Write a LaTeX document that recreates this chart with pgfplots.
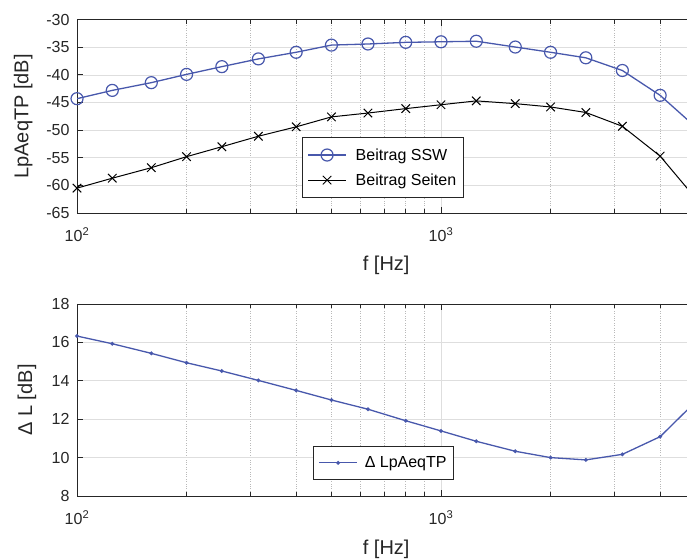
\documentclass[border=0pt]{standalone}
\usepackage{pgfplots}
\pgfplotsset{compat=1.18}
\usepackage{pgfplotstable}
\usepackage{fontspec}
\setmainfont{Liberation Sans}
\definecolor{ssw}{RGB}{72,88,172}
\definecolor{axgray}{RGB}{38,38,38}
\definecolor{gridgray}{RGB}{222,222,222}

\pgfplotstableread{
f      ssw     seiten
100   -44.3   -60.5
125   -42.8   -58.7
160   -41.4   -56.8
200   -39.9   -54.8
250   -38.5   -53.0
315   -37.1   -51.1
400   -35.9   -49.4
500   -34.6   -47.6
630   -34.4   -46.9
800   -34.1   -46.1
1000  -34.0   -45.4
1250  -33.9   -44.7
1600  -34.95  -45.2
2000  -35.9   -45.8
2500  -36.9   -46.8
3150  -39.2   -49.3
4000  -43.7   -54.7
5000  -49.4   -62.3
}\toptable

\pgfplotstableread{
f      dl
100   16.33
125   15.93
160   15.43
200   14.94
250   14.51
315   14.02
400   13.50
500   13.00
630   12.52
800   11.92
1000  11.39
1250  10.85
1600  10.33
2000  10.00
2500   9.88
3150  10.17
4000  11.09
5000  12.90
}\bottable

\begin{document}
\begin{tikzpicture}
\useasboundingbox (0pt,0pt) rectangle (687pt,559pt);
\clip (0pt,0pt) rectangle (687pt,559pt);

\begin{axis}[
  scale only axis, width=618.4pt, height=193.3pt,
  at={(77pt,346pt)}, anchor=south west,
  xmode=log, xmin=100, xmax=5000,
  xtick={100,1000}, xticklabels={10\textsuperscript{2},10\textsuperscript{3}},
  minor xtick={200,300,400,500,600,700,800,900,2000,3000,4000,5000},
  ymin=-65, ymax=-30, ytick={-65,-60,...,-30},
  axis line style={axgray, line width=0.9pt},
  tick style={axgray, line width=0.9pt},
  major tick length=6pt, minor tick length=4pt,
  xmajorgrids, xminorgrids, ymajorgrids,
  major grid style={gridgray, line width=0.8pt},
  minor grid style={gray!55, dotted, line width=0.8pt},
  tick label style={font=\fontsize{16}{18}\selectfont, text=axgray},
  xticklabel style={yshift=-11pt},
  yticklabel style={xshift=-4pt},
  /pgf/number format/assume math mode=true,
  xlabel={f [Hz]}, ylabel={LpAeqTP [dB]},
  every axis x label/.style={at={(axis description cs:0.5,-0.269)}, anchor=center, font=\fontsize{20}{22}\selectfont, text=axgray},
  every axis y label/.style={at={(axis description cs:-0.087,0.5)}, rotate=90, anchor=center, font=\fontsize{20}{22}\selectfont, text=axgray},
  legend cell align=left,
  legend image code/.code={\draw[mark repeat=2,mark phase=2,#1] plot coordinates {(0pt,0pt) (19pt,0pt) (38pt,0pt)};\path (45pt,0pt);},
  legend style={at={(axis description cs:0.3638,0.393)}, anchor=north west,
    font=\fontsize{16}{18}\selectfont, draw=axgray, line width=0.9pt,
    fill=white, inner xsep=5pt, inner ysep=9pt, row sep=8pt},
]
\addplot[ssw, line width=1.3pt, mark=o, mark size=6pt, mark options={line width=1.2pt}] table[x=f,y=ssw]{\toptable};
\addlegendentry{Beitrag SSW}
\addplot[black, line width=1.0pt, mark=x, mark size=6pt, mark options={line width=1.0pt}] table[x=f,y=seiten]{\toptable};
\addlegendentry{Beitrag Seiten}
\end{axis}

\begin{axis}[
  scale only axis, width=618.4pt, height=192pt,
  at={(77pt,63pt)}, anchor=south west,
  xmode=log, xmin=100, xmax=5000,
  xtick={100,1000}, xticklabels={10\textsuperscript{2},10\textsuperscript{3}},
  minor xtick={200,300,400,500,600,700,800,900,2000,3000,4000,5000},
  ymin=8, ymax=18, ytick={8,10,...,18},
  axis line style={axgray, line width=0.9pt},
  tick style={axgray, line width=0.9pt},
  major tick length=6pt, minor tick length=4pt,
  xmajorgrids, xminorgrids, ymajorgrids,
  major grid style={gridgray, line width=0.8pt},
  minor grid style={gray!55, dotted, line width=0.8pt},
  tick label style={font=\fontsize{16}{18}\selectfont, text=axgray},
  xticklabel style={yshift=-11pt},
  yticklabel style={xshift=-4pt},
  /pgf/number format/assume math mode=true,
  xlabel={f [Hz]}, ylabel={Δ L [dB]},
  every axis x label/.style={at={(axis description cs:0.5,-0.276)}, anchor=center, font=\fontsize{20}{22}\selectfont, text=axgray},
  every axis y label/.style={at={(axis description cs:-0.081,0.5)}, rotate=90, anchor=center, font=\fontsize{20}{22}\selectfont, text=axgray},
  legend cell align=left,
  legend image code/.code={\draw[mark repeat=2,mark phase=2,#1] plot coordinates {(0pt,0pt) (19pt,0pt) (38pt,0pt)};\path (43pt,0pt);},
  legend style={at={(axis description cs:0.3816,0.26)}, anchor=north west,
    font=\fontsize{16}{18}\selectfont, draw=axgray, line width=0.9pt,
    fill=white, inner xsep=5pt, inner ysep=8pt},
]
\addplot[ssw, line width=1.3pt, mark=*, mark size=1.2pt] table[x=f,y=dl]{\bottable};
\addlegendentry{Δ LpAeqTP}
\end{axis}
\end{tikzpicture}
\end{document}
